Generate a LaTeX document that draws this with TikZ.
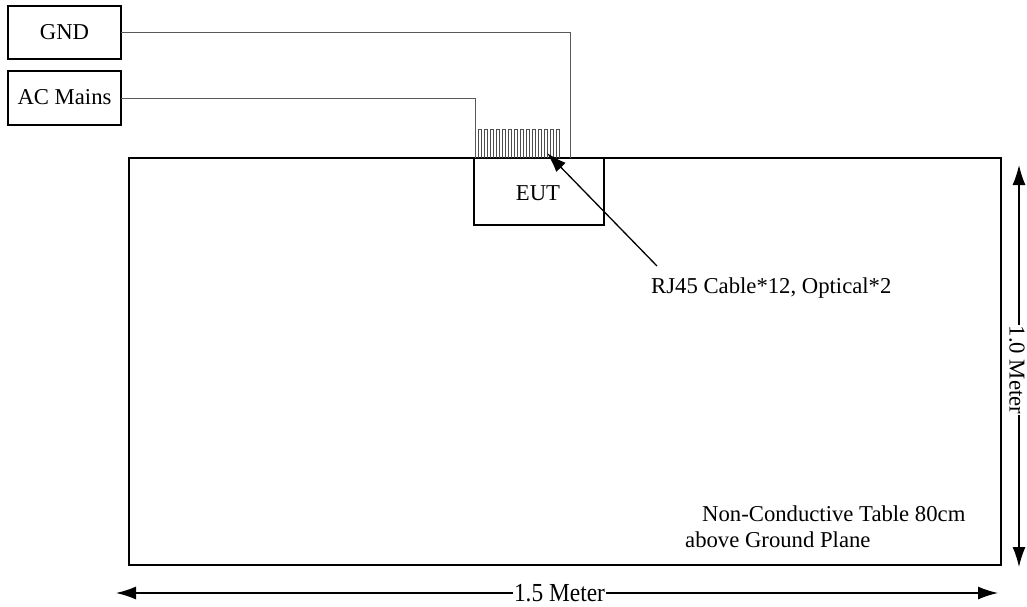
\documentclass[tikz,border=0pt]{standalone}
\usepackage{fontspec}
\setmainfont{Liberation Serif}
\usetikzlibrary{arrows.meta}

\begin{document}
\begin{tikzpicture}[x=1pt,y=-1pt,
  font=\fontsize{22.7}{26}\selectfont,
  wire/.style={draw=black!65,line width=0.9pt},
  dimline/.style={line width=1.4pt,{Latex[length=20pt,width=13pt]}-{Latex[length=20pt,width=13pt]}}]
\useasboundingbox (0,0) rectangle (1027,606);
% supply boxes
\draw [line width=1.3pt] (8,6) rectangle (121,59);
\node [anchor=base] (gnd) at (64.5,39) {GND};
\draw [line width=1.3pt] (8,71) rectangle (121,125);
\node [anchor=base] (mains) at (64.5,104) {AC Mains};
% table and equipment
\draw [line width=2.5pt] (129,158) rectangle (1001,565);
\draw [line width=1.2pt] (474,158) rectangle (604,225);
\node [anchor=base] (eut) at (538,200) {EUT};
% wires to the EUT
\coordinate (gndout) at (121,32);
\coordinate (mainsout) at (121,98);
\coordinate (gndin) at (570,158);
\coordinate (mainsin) at (475,158);
\draw [wire] (gndout) -| (gndin);
\draw [wire] (mainsout) -| (mainsin);
% cable bundle
\foreach \i in {0,...,13}
  \draw [black!70,line width=0.8pt] (478+6*\i,158) -- ++(0,-29) -- ++(3.6,0) -- ++(0,29);
% cable label
\node [anchor=base west,inner sep=0pt] (cables) at (651,293) {RJ45 Cable*12, Optical*2};
\coordinate (tail) at (657,266);
\coordinate (tip) at (547,153);
\draw [line width=1.3pt,-{Latex[length=20pt,width=13pt]}] (tail) -- (tip);
% table note
\node [anchor=base west,inner sep=0pt] (note1) at (702,521) {Non-Conductive Table 80cm};
\node [anchor=base west,inner sep=0pt] (note2) at (685,547) {above Ground Plane};
% dimensions
\coordinate (wl) at (116,593);
\coordinate (wr) at (998,593);
\draw [dimline] (wl) -- (wr);
\node [anchor=base,fill=white,inner sep=1pt,xscale=0.9,font=\fontsize{26}{30}\selectfont] (width) at (559.5,601) {1.5 Meter};
\coordinate (ht) at (1019,165);
\coordinate (hb) at (1019,567);
\draw [dimline] (ht) -- (hb);
\node [fill=white,inner sep=1pt,rotate=-90] (height) at (1017,370) {1.0 Meter};
\end{tikzpicture}
\end{document}
